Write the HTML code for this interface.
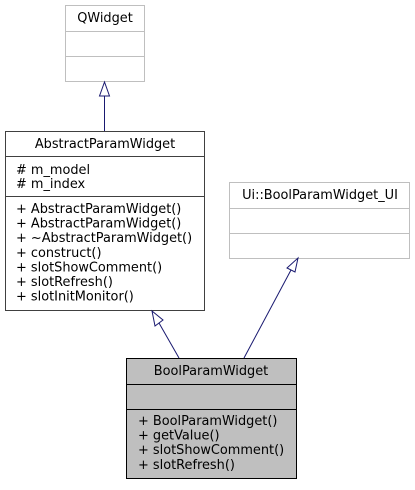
<!DOCTYPE html>
<html><head><style>
body{margin:0;background:#fff;}
svg text{font-family:"DejaVu Sans","Liberation Sans",sans-serif;font-size:12.9px;fill:#000;}
</style></head><body>
<svg width="415" height="485" xmlns="http://www.w3.org/2000/svg">
<rect x="65.5" y="5.5" width="79" height="76" fill="#fff" stroke="#bfbfbf"/>
<line x1="65.5" y1="31.5" x2="144.5" y2="31.5" stroke="#bfbfbf"/>
<line x1="65.5" y1="56.5" x2="144.5" y2="56.5" stroke="#bfbfbf"/>
<text x="105" y="22" text-anchor="middle">QWidget</text>
<rect x="5.5" y="131.5" width="199" height="179" fill="#fff" stroke="#404040"/>
<line x1="5.5" y1="156.5" x2="204.5" y2="156.5" stroke="#404040"/>
<line x1="5.5" y1="196.5" x2="204.5" y2="196.5" stroke="#404040"/>
<text x="105" y="148" text-anchor="middle">AbstractParamWidget</text>
<text x="16" y="174"># m_model</text>
<text x="16" y="188"># m_index</text>
<text><tspan x="16" y="213">+ AbstractParamWidget()</tspan><tspan x="16" dy="14.6">+ AbstractParamWidget()</tspan><tspan x="16" dy="14.6">+ ~AbstractParamWidget()</tspan><tspan x="16" dy="14.6">+ construct()</tspan><tspan x="16" dy="14.6">+ slotShowComment()</tspan><tspan x="16" dy="14.6">+ slotRefresh()</tspan><tspan x="16" dy="14.6">+ slotInitMonitor()</tspan></text>
<rect x="229.5" y="182.5" width="180" height="76" fill="#fff" stroke="#bfbfbf"/>
<line x1="229.5" y1="208.5" x2="409.5" y2="208.5" stroke="#bfbfbf"/>
<line x1="229.5" y1="233.5" x2="409.5" y2="233.5" stroke="#bfbfbf"/>
<text x="320" y="199" text-anchor="middle">Ui::BoolParamWidget_UI</text>
<rect x="126.5" y="358.5" width="170" height="120" fill="#bfbfbf" stroke="#000"/>
<line x1="126.5" y1="384.5" x2="296.5" y2="384.5" stroke="#000"/>
<line x1="126.5" y1="409.5" x2="296.5" y2="409.5" stroke="#000"/>
<text x="211" y="375" text-anchor="middle">BoolParamWidget</text>
<text><tspan x="138" y="425">+ BoolParamWidget()</tspan><tspan x="138" dy="14.6">+ getValue()</tspan><tspan x="138" dy="14.6">+ slotShowComment()</tspan><tspan x="138" dy="14.6">+ slotRefresh()</tspan></text>
<g stroke="#191970" fill="none" stroke-width="1">
<line x1="104.5" y1="131" x2="104.5" y2="96"/>
<polygon points="104.5,82 99.5,96 109.5,96" fill="#fff"/>
<line x1="179" y1="358" x2="159" y2="323"/>
<polygon points="152,311 163,320 155,326" fill="#fff"/>
<line x1="244" y1="358" x2="291" y2="270"/>
<polygon points="298,258 295,272 287,268" fill="#fff"/>
</g>
</svg>
</body></html>
